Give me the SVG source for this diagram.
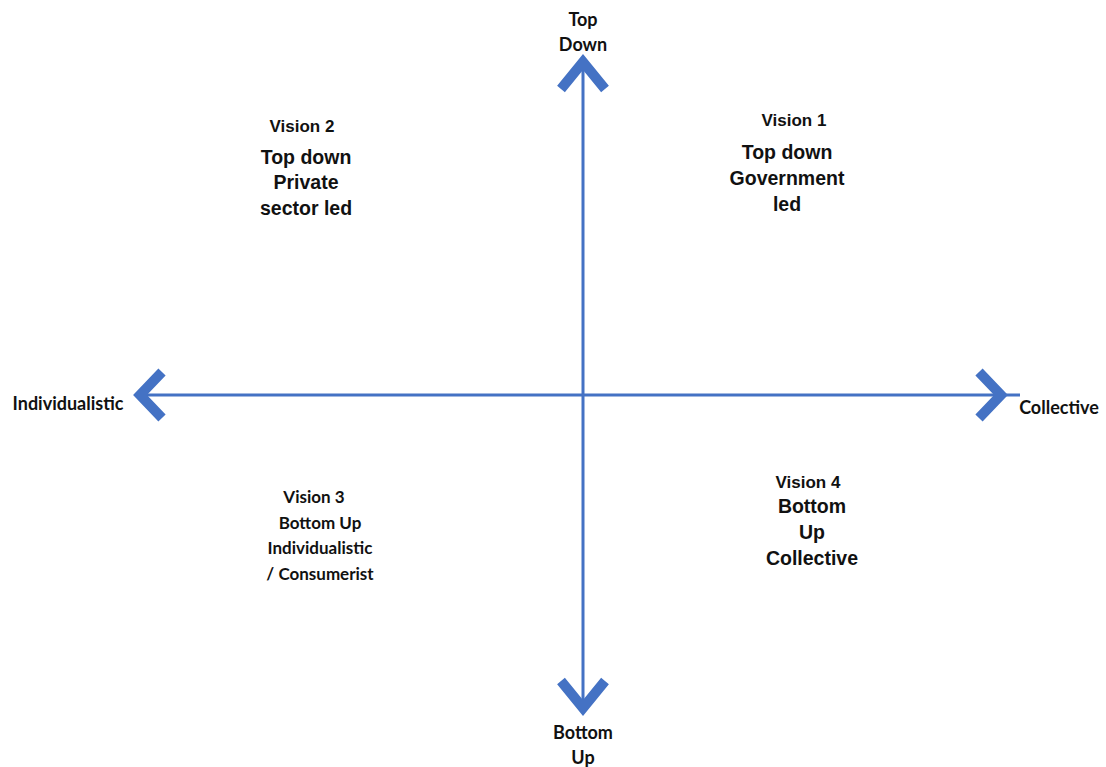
<svg xmlns="http://www.w3.org/2000/svg" width="1106" height="767" viewBox="0 0 1106 767">
<style>
.ax{stroke:#4472C4;stroke-width:3;fill:none}
.chev{stroke:#4472C4;stroke-width:10;fill:none;stroke-linejoin:miter;stroke-miterlimit:10}
.c{font-family:Lato,"Liberation Sans",sans-serif;font-weight:bold;font-size:18px;fill:#111;text-anchor:middle}
.c3{font-size:17px}
.a{font-family:"Liberation Sans",Arial,sans-serif;font-weight:bold;font-size:19.5px;fill:#111;text-anchor:middle}
.t{font-size:17px}
</style>
<rect width="1106" height="767" fill="#fff"/>
<g id="connectors">
<line class="ax" x1="583" y1="62" x2="583" y2="708"/>
<line class="ax" x1="140" y1="395" x2="1020" y2="395"/>
<polyline class="chev" points="561,89 583,62 605,89"/>
<polyline class="chev" points="561,681 583,708 605,681"/>
<polyline class="chev" points="162,372 140,395 162,418"/>
<polyline class="chev" points="979,372 1001,395 979,418"/>
</g>
<g id="top-label"><text class="c" x="583" y="26">Top</text><text class="c" x="583" y="51">Down</text></g>
<g id="bottom-label"><text class="c" x="583" y="739">Bottom</text><text class="c" x="583" y="764">Up</text></g>
<g id="left-label"><text class="c" x="68" y="410">Individualistic</text></g>
<g id="right-label"><text class="c" x="1059" y="414">Collective</text></g>
<g id="vision2"><text class="a t" x="302" y="132">Vision 2</text><text class="a" x="306" y="164">Top down</text><text class="a" x="306" y="189">Private</text><text class="a" x="306" y="215">sector led</text></g>
<g id="vision1"><text class="a t" x="794" y="126">Vision 1</text><text class="a" x="787" y="159">Top down</text><text class="a" x="787" y="185">Government</text><text class="a" x="787" y="211">led</text></g>
<g id="vision3"><text class="c c3" x="314" y="503">Vision 3</text><text class="c c3" x="320" y="529">Bottom Up</text><text class="c c3" x="320" y="554">Individualistic</text><text class="c c3" x="320" y="580">/ Consumerist</text></g>
<g id="vision4"><text class="a t" x="808" y="488">Vision 4</text><text class="a" x="812" y="513">Bottom</text><text class="a" x="812" y="539">Up</text><text class="a" x="812" y="565">Collective</text></g>
</svg>
